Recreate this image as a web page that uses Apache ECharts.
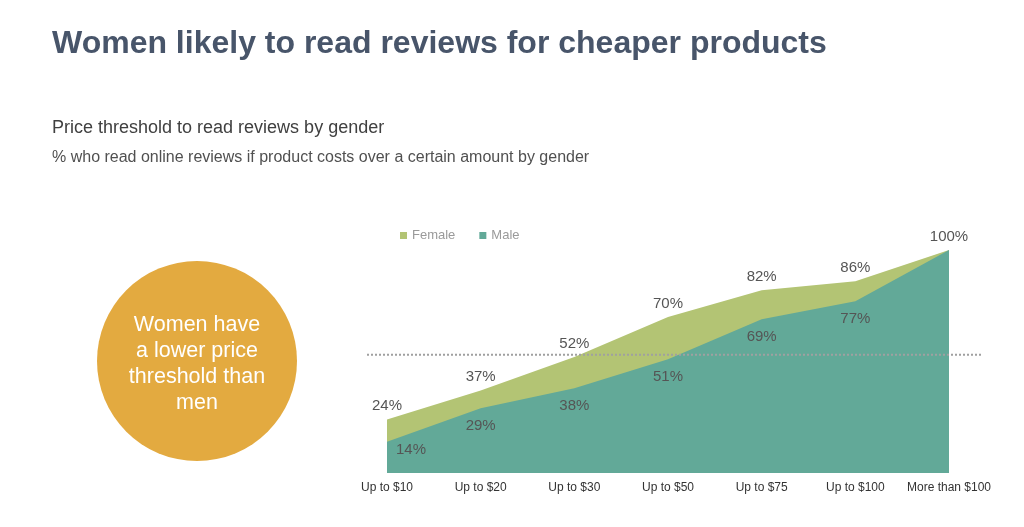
<!DOCTYPE html>
<html>
<head>
<meta charset="utf-8">
<script src="https://cdn.jsdelivr.net/npm/echarts@6/dist/echarts.min.js"></script>
<style>
html,body{margin:0;padding:0;background:#fff;}
#c{width:1024px;height:527px;}
</style>
</head>
<body>
<div id="c"></div>
<script>
const categories = ['Up to $10','Up to $20','Up to $30','Up to $50','Up to $75','Up to $100','More than $100'];
const female = [24, 37, 52, 70, 82, 86, 100];
const male = [14, 29, 38, 51, 69, 77, 100];
const referenceLine = [53, 53];
const calloutText = 'Women have\na lower price\nthreshold than\nmen';

const FONT = '"Liberation Sans", Arial, Helvetica, sans-serif';
const chart = echarts.init(document.getElementById('c'));

const maleData = male.map((v, i) => {
  if (i === male.length - 1) return { value: v, label: { show: false } };
  if (i === 0) return { value: v, label: { offset: [24, -9] } };
  return v;
});

chart.setOption({
  animation: false,
  textStyle: { fontFamily: FONT },
  title: [
    { text: 'Women likely to read reviews for cheaper products', left: 47, top: 23,
      textStyle: { fontFamily: FONT, fontSize: 32, fontWeight: 'bold', color: '#48556a' } },
    { text: 'Price threshold to read reviews by gender', left: 47, top: 114,
      textStyle: { fontFamily: FONT, fontSize: 18, fontWeight: 'normal', color: '#404040' } },
    { text: '% who read online reviews if product costs over a certain amount by gender', left: 47, top: 145,
      textStyle: { fontFamily: FONT, fontSize: 16, fontWeight: 'normal', color: '#505050' } }
  ],
  legend: {
    data: ['Female', 'Male'], left: 395, top: 224, icon: 'rect', itemWidth: 7, itemHeight: 7,
    itemGap: 24, textStyle: { fontFamily: FONT, fontSize: 13, color: '#9a9a9a' }
  },
  graphic: [
    { type: 'circle', shape: { cx: 197, cy: 361, r: 100 }, style: { fill: '#e3aa40' }, silent: true },
    { type: 'text', x: 197, y: 364, style: { text: calloutText, fill: '#ffffff', font: '21.5px ' + FONT,
      align: 'center', verticalAlign: 'middle', lineHeight: 26 }, silent: true }
  ],
  grid: [
    { left: 387, right: 75, top: 250, bottom: 54 },
    { left: 367, right: 42, top: 250, bottom: 54 }
  ],
  xAxis: [
    { type: 'category', data: categories, boundaryGap: false, gridIndex: 0,
      axisLine: { show: false }, axisTick: { show: false },
      axisLabel: { color: '#333', fontSize: 12, margin: 9, fontFamily: FONT, interval: 0 } },
    { type: 'value', gridIndex: 1, min: 0, max: 1, show: false }
  ],
  yAxis: [
    { type: 'value', min: 0, max: 100, gridIndex: 0, show: false, splitLine: { show: false } },
    { type: 'value', min: 0, max: 100, gridIndex: 1, show: false, splitLine: { show: false } }
  ],
  series: [
    { name: 'Female', type: 'line', data: female, xAxisIndex: 0, yAxisIndex: 0,
      symbol: 'circle', symbolSize: 0, showSymbol: true, lineStyle: { width: 0 }, itemStyle: { color: '#b3c474' },
      areaStyle: { color: '#b3c474', opacity: 1 },
      label: { show: true, position: 'top', distance: 6, formatter: '{c}%', color: '#555', fontSize: 15, fontFamily: FONT },
      z: 2 },
    { name: 'Male', type: 'line', data: maleData, xAxisIndex: 0, yAxisIndex: 0,
      symbol: 'circle', symbolSize: 0, showSymbol: true, lineStyle: { width: 0 }, itemStyle: { color: '#62a998' },
      areaStyle: { color: '#62a998', opacity: 1 },
      label: { show: true, position: 'bottom', distance: 10, formatter: '{c}%', color: '#555', fontSize: 15, fontFamily: FONT },
      z: 3 },
    { name: 'ref', type: 'line', data: [[0, referenceLine[0]], [1, referenceLine[1]]], xAxisIndex: 1, yAxisIndex: 1,
      symbol: 'none', lineStyle: { color: '#a0a0a0', width: 2, type: [2, 2] }, z: 4, silent: true }
  ]
});
</script>
</body>
</html>
